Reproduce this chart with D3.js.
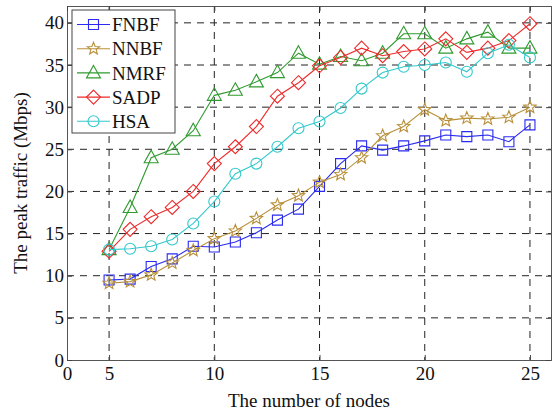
<!DOCTYPE html>
<html>
<head>
<meta charset="utf-8">
<script src="https://cdn.jsdelivr.net/npm/d3@7"></script>
<style>
  body { margin: 0; background: #fff; }
  text { font-family: "Liberation Serif", "Times New Roman", serif; fill: #111; }
</style>
</head>
<body>
<div id="chart"></div>
<script>
// number of nodes
const nodes = [5, 6, 7, 8, 9, 10, 11, 12, 13, 14, 15, 16, 17, 18, 19, 20, 21, 22, 23, 24, 25];

// peak traffic (Mbps) per method
const fnbf = [9.5, 9.6, 11.1, 12.0, 13.5, 13.4, 14.0, 15.1, 16.6, 17.9, 20.6, 23.3, 25.4, 24.9, 25.4, 26.0, 26.7, 26.5, 26.7, 25.9, 27.9];
const nnbf = [9.1, 9.3, 10.1, 11.5, 13.0, 14.4, 15.3, 16.8, 18.4, 19.5, 21.1, 22.0, 24.0, 26.6, 27.7, 29.7, 28.4, 28.7, 28.6, 28.8, 30.0];
const nmrf = [13.1, 18.1, 24.0, 25.0, 27.2, 31.4, 32.0, 33.0, 34.1, 36.4, 35.1, 36.0, 35.5, 36.4, 38.7, 38.7, 37.0, 38.1, 38.9, 37.0, 37.0];
const sadp = [12.9, 15.5, 17.0, 18.1, 20.0, 23.3, 25.3, 27.7, 31.3, 32.9, 34.9, 35.9, 37.0, 36.1, 36.6, 36.9, 38.1, 36.5, 37.0, 37.9, 39.9];
const hsa  = [13.1, 13.2, 13.5, 14.3, 16.2, 18.8, 22.1, 23.3, 25.3, 27.5, 28.3, 29.9, 32.2, 34.1, 34.8, 35.0, 35.3, 34.2, 36.4, 37.4, 35.9];

const seriesNames = ["FNBF", "NNBF", "NMRF", "SADP", "HSA"];
const seriesValues = [fnbf, nnbf, nmrf, sadp, hsa];
const seriesColors = ["#2a2af0", "#b8903a", "#2f9a2f", "#ee2a2a", "#33c8cc"];
const seriesMarkers = ["square", "star", "triangle", "diamond", "circle"];

// x ticks: left edge labelled "0"
const xTickVals = [3, 5, 10, 15, 20, 25];
const xTickLabels = ["0", "5", "10", "15", "20", "25"];
const yTickVals = [0, 5, 10, 15, 20, 25, 30, 35, 40];

const W = 554, H = 415;
const margin = { top: 6, right: 3, bottom: 55, left: 67 };
const innerW = W - margin.left - margin.right;
const innerH = H - margin.top - margin.bottom;

const svg = d3.select("#chart").append("svg")
    .attr("width", W)
    .attr("height", H);

const g = svg.append("g")
    .attr("transform", `translate(${margin.left},${margin.top})`);

const x = d3.scaleLinear().domain([3, 26]).range([0, innerW]);
const y = d3.scaleLinear().domain([0, 42]).range([innerH, 0]);

// dashed grid
g.append("g")
    .selectAll("line")
    .data(xTickVals.slice(1))
    .join("line")
    .attr("x1", d => x(d)).attr("x2", d => x(d))
    .attr("y1", 0).attr("y2", innerH)
    .attr("stroke", "#222").attr("stroke-width", 1)
    .attr("stroke-dasharray", "7,6");

g.append("g")
    .selectAll("line")
    .data(yTickVals.slice(1))
    .join("line")
    .attr("x1", 0).attr("x2", innerW)
    .attr("y1", d => y(d)).attr("y2", d => y(d))
    .attr("stroke", "#222").attr("stroke-width", 1)
    .attr("stroke-dasharray", "7,6");

// axes with inward ticks
const xAxis = g.append("g")
    .attr("transform", `translate(0,${innerH})`)
    .call(d3.axisBottom(x).tickValues(xTickVals).tickSize(-5).tickPadding(9)
        .tickFormat((d, i) => xTickLabels[i]));
const yAxis = g.append("g")
    .call(d3.axisLeft(y).tickValues(yTickVals).tickSize(-5).tickPadding(3));
g.append("g")
    .call(d3.axisTop(x).tickValues(xTickVals).tickSize(-5).tickFormat(""));
g.append("g")
    .attr("transform", `translate(${innerW},0)`)
    .call(d3.axisRight(y).tickValues(yTickVals).tickSize(-5).tickFormat(""));

g.selectAll(".domain").attr("stroke", "#555");
g.selectAll(".tick line").attr("stroke", "#444");
g.selectAll(".tick text").style("font-size", "19px").attr("fill", "#111");
xAxis.selectAll(".tick text").attr("dy", "0.6em");

// marker shapes
function markerPath(type) {
    if (type === "square") return "M-5,-5H5V5H-5Z";
    if (type === "diamond") return "M0,-7L7,0L0,7L-7,0Z";
    if (type === "triangle") return "M0,-7.5L7,5L-7,5Z";
    if (type === "circle") return d3.symbol(d3.symbolCircle, 95)();
    if (type === "star") {
        const pts = [];
        for (let k = 0; k < 10; k++) {
            const r = k % 2 === 0 ? 6.5 : 2.8;
            const a = -Math.PI / 2 + k * Math.PI / 5;
            pts.push([r * Math.cos(a), r * Math.sin(a)]);
        }
        return "M" + pts.map(p => p.join(",")).join("L") + "Z";
    }
}

const line = d3.line()
    .x(d => x(d[0]))
    .y(d => y(d[1]));

seriesValues.forEach((vals, s) => {
    const pts = nodes.map((n, i) => [n, vals[i]]);
    const sg = g.append("g");
    sg.append("path")
        .datum(pts)
        .attr("d", line)
        .attr("fill", "none")
        .attr("stroke", seriesColors[s])
        .attr("stroke-width", 1.1);
    sg.selectAll("path.m")
        .data(pts)
        .join("path")
        .attr("class", "m")
        .attr("d", markerPath(seriesMarkers[s]))
        .attr("transform", d => `translate(${x(d[0])},${y(d[1])})`)
        .attr("fill", "none")
        .attr("stroke", seriesColors[s])
        .attr("stroke-width", 1.1);
});

// legend
const legend = g.append("g").attr("transform", "translate(5,4)");
legend.append("rect")
    .attr("width", 103).attr("height", 123)
    .attr("fill", "#fff").attr("stroke", "#444").attr("stroke-width", 1);
seriesNames.forEach((name, s) => {
    const ly = 14.5 + s * 24.2;
    const row = legend.append("g").attr("transform", `translate(0,${ly})`);
    row.append("line")
        .attr("x1", 5).attr("x2", 38).attr("y1", 0).attr("y2", 0)
        .attr("stroke", seriesColors[s]).attr("stroke-width", 1.1);
    row.append("path")
        .attr("d", markerPath(seriesMarkers[s]))
        .attr("transform", "translate(21.5,0)")
        .attr("fill", "none")
        .attr("stroke", seriesColors[s]).attr("stroke-width", 1.1);
    row.append("text")
        .attr("x", 40).attr("y", 0).attr("dy", "0.35em")
        .style("font-size", "19px")
        .text(name);
});

// axis titles
svg.append("text")
    .attr("x", margin.left + x(14.5))
    .attr("y", 407)
    .attr("text-anchor", "middle")
    .style("font-size", "19px")
    .text("The number of nodes");

svg.append("text")
    .attr("transform", `translate(27,${margin.top + innerH / 2}) rotate(-90)`)
    .attr("text-anchor", "middle")
    .style("font-size", "19px")
    .text("The peak traffic (Mbps)");
</script>
</body>
</html>
